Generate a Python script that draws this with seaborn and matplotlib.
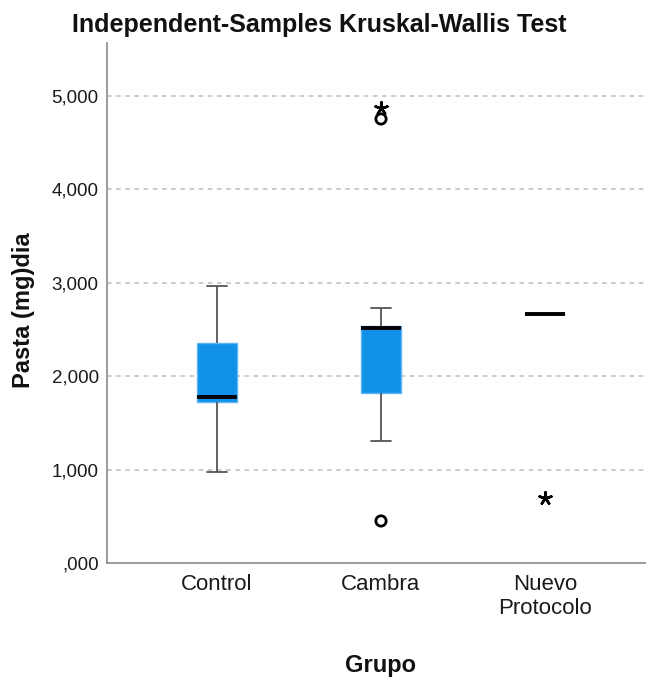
import numpy as np
import pandas as pd
import matplotlib
matplotlib.use("Agg")
import matplotlib.pyplot as plt
import seaborn as sns

# ---- data (values in the units of the y axis) ----
groups = ["Control", "Cambra", "Nuevo\nProtocolo"]
whisker_low = [0.977, 1.309, 2.670]
q1 = [1.727, 1.817, 2.670]
median = [1.774, 2.513, 2.670]
q3 = [2.359, 2.537, 2.670]
whisker_high = [2.965, 2.727, 2.670]

outlier_group = ["Cambra", "Cambra", "Cambra", "Nuevo\nProtocolo"]
outlier_value = [4.754, 4.870, 0.450, 0.696]
outlier_kind = ["circle", "star", "circle", "star"]

yticks = [0, 1, 2, 3, 4, 5]
ytick_labels = [",000", "1,000", "2,000", "3,000", "4,000", "5,000"]

# ---- table built from summary arrays ----
rows = []
for g, a, b, c, d, e in zip(groups, whisker_low, q1, median, q3, whisker_high):
    for v in (a, b, c, d, e):
        rows.append({"Grupo": g, "Pasta": v})
df = pd.DataFrame(rows)

out = pd.DataFrame({
    "pos": [groups.index(g) for g in outlier_group],
    "value": outlier_value,
    "kind": outlier_kind,
})

sns.set_theme(style="white")
plt.rcParams["font.family"] = ["Liberation Sans", "DejaVu Sans"]

W, H = 646, 681
fig = plt.figure(figsize=(W / 100, H / 100), dpi=100)
ax = fig.add_axes([107 / W, 118 / H, (660 - 107) / W, 520 / H])

box_color = "#1192e8"
sns.boxplot(
    data=df, x="Grupo", y="Pasta", order=groups, ax=ax,
    color=box_color, width=0.244, whis=(0, 100), showfliers=False,
    boxprops=dict(facecolor=box_color, edgecolor="#5cb6f2", linewidth=1.0),
    whiskerprops=dict(color="#555555", linewidth=1.3),
    capprops=dict(color="#555555", linewidth=1.3),
    medianprops=dict(color="black", linewidth=2.8),
)

circ = out[out["kind"] == "circle"]
star = out[out["kind"] == "star"]
sns.scatterplot(x=circ["pos"].values, y=circ["value"].values, ax=ax,
                marker="o", s=55, facecolor="none", edgecolor="black",
                linewidth=2.0, zorder=5)
sns.scatterplot(x=star["pos"].values, y=star["value"].values, ax=ax,
                marker=(5, 2, 0), s=80, color="black", edgecolor="black",
                linewidth=1.8, zorder=5)

ax.set_xlim(-110 / 164, (660 - 217) / 164)
ax.set_ylim(0, 520 / 93.4)
ax.set_yticks(yticks)
ax.set_yticklabels(ytick_labels)
ax.set_xticks(range(len(groups)))
ax.set_xticklabels(groups)
ax.set_xlabel("")
ax.set_ylabel("")

for y in yticks[1:]:
    ax.axhline(y, color="#bdbdbd", linewidth=1.1, linestyle=(0, (3, 3)), zorder=0)

for s in ["top", "right"]:
    ax.spines[s].set_visible(False)
for s in ["left", "bottom"]:
    ax.spines[s].set_color("#8a8a8a")
    ax.spines[s].set_linewidth(1.2)

ax.tick_params(axis="y", length=0, pad=6, labelsize=13.5, labelcolor="#1a1a1a")
ax.tick_params(axis="x", length=0, pad=8, labelsize=16, labelcolor="#1a1a1a")

fig.text(319 / W, 1 - 32 / H, "Independent-Samples Kruskal-Wallis Test",
         ha="center", va="baseline", fontsize=18, fontweight="bold", color="#111111")
fig.text(24 / W, 1 - 310 / H, "Pasta (mg)dia", rotation=90,
         ha="center", va="center", fontsize=17, fontweight="bold", color="#111111")
fig.text(380 / W, 1 - 672 / H, "Grupo", ha="center", va="baseline",
         fontsize=17, fontweight="bold", color="#111111")

fig.savefig("out.png", dpi=100)
